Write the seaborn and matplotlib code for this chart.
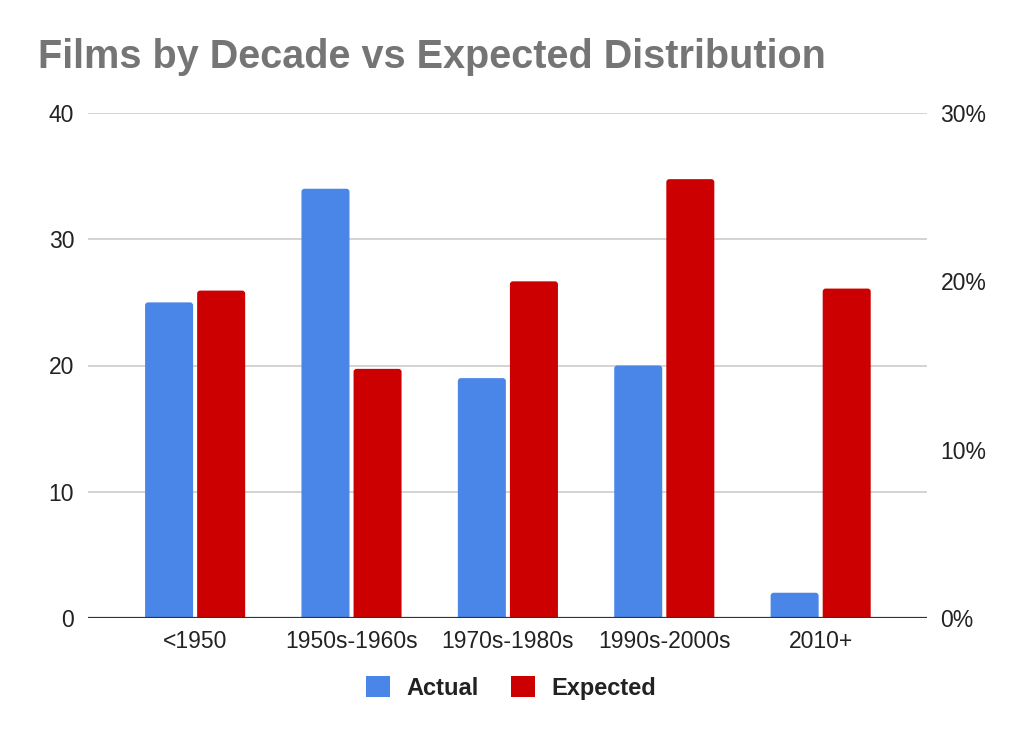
import matplotlib
matplotlib.use("Agg")
import matplotlib.pyplot as plt
import seaborn as sns
import pandas as pd
import numpy as np
from matplotlib.patches import Patch, FancyBboxPatch, Rectangle
from matplotlib.ticker import FuncFormatter

# ---- data ----
decades = ["<1950", "1950s-1960s", "1970s-1980s", "1990s-2000s", "2010+"]
actual = [25, 34, 19, 20, 2]
expected_pct = [19.45, 14.8, 20.0, 26.07, 19.57]
series_names = ["Actual", "Expected"]
left_ticks = [0, 10, 20, 30, 40]
right_ticks = [0, 10, 20, 30]

BLUE = "#4a86e8"
RED = "#cc0000"
palette = {"Actual": BLUE, "Expected": RED}

nan5 = [np.nan] * len(decades)
df_actual = pd.DataFrame({"decade": decades * 2, "value": actual + nan5,
                          "series": ["Actual"] * 5 + ["Expected"] * 5})
df_expected = pd.DataFrame({"decade": decades * 2, "value": nan5 + expected_pct,
                            "series": ["Actual"] * 5 + ["Expected"] * 5})

sns.set_theme(style="white")
plt.rcParams["font.family"] = ["Liberation Sans", "DejaVu Sans"]

fig = plt.figure(figsize=(10.24, 7.39), dpi=100)
ax_w_px = 926.7 - 88
ax_h_px = 618 - 113
ax = fig.add_axes([88 / 1024, 1 - 618 / 739, ax_w_px / 1024, ax_h_px / 739])
ax2 = ax.twinx()

common = dict(x="decade", y="value", hue="series", hue_order=series_names,
              palette=palette, order=decades, width=0.666, gap=0.078, dodge=True,
              legend=False, saturation=1, edgecolor="none", linewidth=0)
sns.barplot(data=df_actual, ax=ax, **common)
sns.barplot(data=df_expected, ax=ax2, **common)

XLIM = (-0.685, 4.678)
ax.set_xlim(*XLIM)
ax.set_ylim(0, 40)
ax2.set_ylim(0, 30)


def round_tops(a, ymax, radius_px=3.0):
    xu_per_px = (XLIM[1] - XLIM[0]) / ax_w_px
    yu_per_px = ymax / ax_h_px
    r = radius_px * xu_per_px
    aspect = yu_per_px / xu_per_px
    for p in list(a.patches):
        if not isinstance(p, Rectangle):
            continue
        h = p.get_height()
        if h is None or not np.isfinite(h) or h <= 0:
            p.remove()
            continue
        x, y, w = p.get_x(), p.get_y(), p.get_width()
        fc = p.get_facecolor()
        ext = radius_px * yu_per_px
        fb = FancyBboxPatch((x + r, y - ext), w - 2 * r, h + ext - r * aspect,
                            boxstyle=f"round,pad={r},rounding_size={r}",
                            mutation_aspect=aspect, facecolor=fc,
                            edgecolor="none", linewidth=0, zorder=p.get_zorder())
        p.remove()
        a.add_patch(fb)


round_tops(ax, 40)
round_tops(ax2, 30)

ax.set_yticks(left_ticks)
ax2.set_yticks(right_ticks)
ax2.yaxis.set_major_formatter(FuncFormatter(lambda v, p: f"{int(v)}%"))

for a in (ax, ax2):
    a.set_xlabel("")
    a.set_ylabel("")
    for s in ("top", "left", "right", "bottom"):
        a.spines[s].set_visible(False)
    a.patch.set_visible(False)

ax.grid(axis="y", color="#cccccc", linewidth=1.2)
ax.set_axisbelow(True)
ax2.grid(False)

ax2.axhline(0, color="#333333", linewidth=1.6, zorder=5)

TICK = 16.5
ax.tick_params(axis="y", length=0, pad=10, labelsize=TICK, labelcolor="#222222")
ax2.tick_params(axis="y", length=0, pad=10, labelsize=TICK, labelcolor="#222222")
ax.tick_params(axis="x", length=0, pad=9, labelsize=TICK, labelcolor="#222222")

fig.text(38 / 1024, 1 - 68 / 739, "Films by Decade vs Expected Distribution",
         fontsize=28.5, fontweight="bold", color="#757575", ha="left", va="baseline")

handles = [Patch(facecolor=palette[n], edgecolor="none", label=n) for n in series_names]
leg = fig.legend(handles=handles, loc="center", bbox_to_anchor=(511 / 1024, 1 - 688 / 739),
                 ncol=2, frameon=False, handlelength=1.0, handleheight=1.0,
                 handletextpad=0.68, columnspacing=1.4,
                 prop={"weight": "bold", "size": 17})
for t in leg.get_texts():
    t.set_color("#222222")

fig.savefig("out.png", dpi=100)
